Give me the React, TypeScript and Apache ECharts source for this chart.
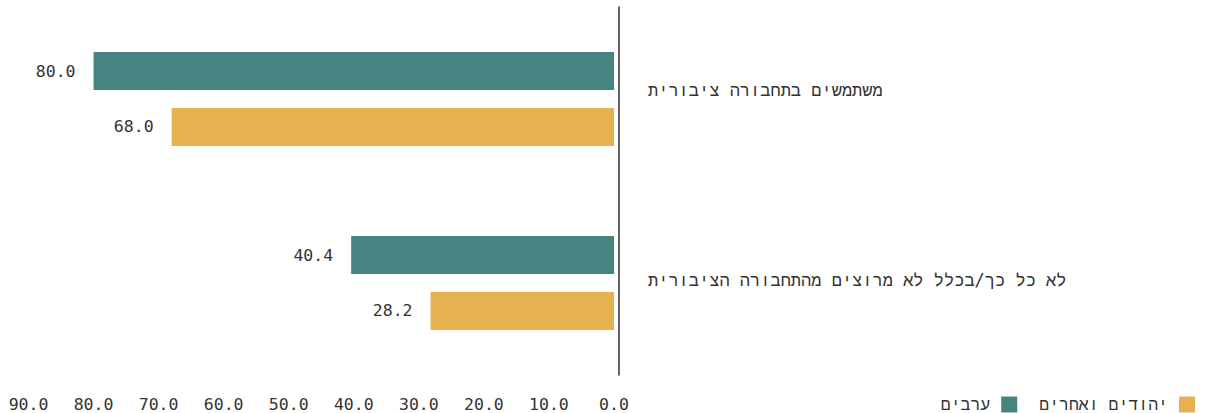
import React, { useEffect, useRef } from "react";
import * as echarts from "echarts";

const categories: string[] = [
  "משתמשים בתחבורה ציבורית",
  "לא כל כך/בכלל לא מרוצים מהתחבורה הציבורית",
];
const seriesNames: string[] = ["ערבים", "יהודים ואחרים"];
const arabsValues: number[] = [80.0, 40.4];
const jewsValues: number[] = [68.0, 28.2];
const colors: string[] = ["#468481", "#E5B24F"];

const FONT = "'DejaVu Sans Mono', 'Liberation Mono', monospace";

export default function App() {
  const ref = useRef<HTMLDivElement>(null);
  useEffect(() => {
    document.body.style.margin = "0";
    if (!ref.current) return;
    const chart = echarts.init(ref.current, undefined, { renderer: "svg" });
    const labelCommon = {
      show: true,
      position: "left" as const,
      distance: 18,
      color: "#333",
      fontFamily: FONT,
      fontSize: 16.5,
      formatter: (p: any) => Number(p.value).toFixed(1),
    };
    chart.setOption({
      animation: false,
      textStyle: { fontFamily: FONT },
      grid: { left: 28.5, right: 591, top: 7, bottom: 38, containLabel: false },
      legend: {
        data: seriesNames,
        right: 5,
        bottom: -5,
        align: "right",
        icon: "rect",
        itemWidth: 16,
        itemHeight: 16,
        itemGap: 22,
        textStyle: { fontFamily: FONT, fontSize: 16.5, color: "#333", padding: [0, 6, 0, 0] },
      },
      xAxis: {
        type: "value",
        inverse: true,
        min: 0,
        max: 90,
        interval: 10,
        axisLine: { show: false },
        axisTick: { show: false },
        splitLine: { show: false },
        axisLabel: {
          margin: 21,
          color: "#333",
          fontFamily: FONT,
          fontSize: 16.5,
          formatter: (v: number) => v.toFixed(1),
        },
      },
      yAxis: {
        type: "category",
        data: categories,
        inverse: true,
        position: "right",
        offset: 5,
        axisLine: { show: true, onZero: false, lineStyle: { color: "#333", width: 1.5 } },
        axisTick: { show: false },
        axisLabel: {
          margin: 29,
          align: "left",
          formatter: (v: string, i: number) => (i === 0 ? `{a|${v}}` : `{b|${v}}`),
          rich: {
            a: { fontFamily: FONT, fontSize: 17, color: "#333", padding: [0, 0, 19, 0] },
            b: { fontFamily: FONT, fontSize: 17, color: "#333", padding: [0, 0, 6, 0] },
          },
        },
      },
      series: [
        {
          name: seriesNames[0],
          type: "bar",
          data: arabsValues,
          barWidth: 38,
          barGap: "47%",
          itemStyle: { color: colors[0] },
          label: labelCommon,
        },
        {
          name: seriesNames[1],
          type: "bar",
          data: jewsValues,
          barWidth: 38,
          barGap: "47%",
          itemStyle: { color: colors[1] },
          label: labelCommon,
        },
      ],
    });
    return () => chart.dispose();
  }, []);
  return <div ref={ref} style={{ width: 1205, height: 413 }} />;
}
